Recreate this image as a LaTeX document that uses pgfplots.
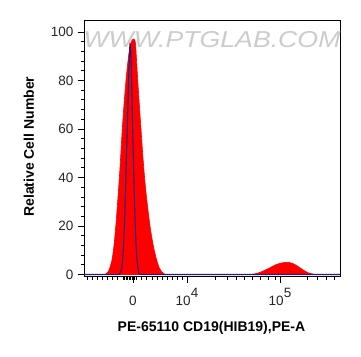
\documentclass[border=0pt]{standalone}
\usepackage{pgfplots}
\pgfplotsset{compat=1.18}
\usepackage{fontspec}
\setmainfont{Liberation Sans}
\definecolor{ctrl}{RGB}{45,25,120}
\newcommand{\tfont}{\fontsize{13.5}{15}\selectfont}
\newcommand{\lfont}{\fontsize{14}{16}\selectfont\bfseries}
\begin{document}
\begin{tikzpicture}[x=1pt,y=1pt]
\path[use as bounding box] (0,0) rectangle (361,356);
\begin{axis}[
  at={(84pt,80pt)}, anchor=south west,
  scale only axis, width=256pt, height=256pt,
  xmin=84, xmax=340, ymin=-0.6, ymax=104.9,
  axis line style={black, line width=0.8pt},
  tick align=outside,
  xtick pos=bottom, ytick pos=left,
  major tick length=6.5pt, minor tick length=3.5pt,
  every tick/.style={black, line width=0.7pt},
  xtick={133,187,280},
  xticklabels={{\tfont 0},{\tfont 10\raisebox{0.62em}{4}},{\tfont 10\raisebox{0.62em}{5}}},
  minor xtick={87,92,97,102,107,112,117,123,124.5,126,127.5,129,130.5,132,134.5,136,141,146.5,152,157,162,167,172,177,182,215,227,236,244,252,260,268,275,307,317,326,334},
  ytick={0,20,40,60,80,100},
  yticklabels={{\tfont 0},{\tfont 20},{\tfont 40},{\tfont 60},{\tfont 80},{\tfont 100}},
  minor y tick num=4,
  tick label style={text=black!85},
  xticklabel style={anchor=base, yshift=-23pt},
  yticklabel style={xshift=-0.5pt},
  xlabel={\lfont PE-65110 CD19(HIB19),PE-A},
  ylabel={\lfont Relative Cell Number},
  every axis x label/.style={at={(axis description cs:0.498,-0.203)}, anchor=center},
  every axis y label/.style={at={(axis description cs:-0.215,0.505)}, anchor=center, rotate=90},
  clip=true,
]
\addplot[fill=red, draw=red, line width=0.6pt, smooth, tension=0.5] coordinates {
(100,0) (105,0) (108,1) (110,3) (112,6) (114,12) (116,21) (118,32) (120,44) (122,58) (124,70) (126,80) (128,88) (130,94) (132,96.5) (134,97) (135.5,95) (137,85) (139,72) (141,60) (143,48) (145,38) (147,30) (150,20) (153,12.5) (156,7) (159,3) (162,1) (165,0) (170,0)
} \closedcycle;
\addplot[fill=red, draw=red, line width=0.6pt, smooth, tension=0.5] coordinates {
(245,0) (250,0) (255,0.3) (260,0.9) (265,1.8) (270,2.8) (275,3.9) (280,4.6) (285,5.0) (289,5.0) (293,4.5) (297,3.6) (301,2.5) (305,1.4) (309,0.6) (313,0.2) (316,0) (320,0)
} \closedcycle;
\addplot[ctrl, line width=1.1pt, smooth, tension=0.4] coordinates {
(84,0) (110,0) (119,0) (120,0.5) (121.5,2) (123,8) (124.5,21) (126,42) (127.5,64) (129,85) (130,95) (131,90) (132,73) (133,54) (134.3,33) (135.5,17) (137,6) (138.5,1.5) (140,0) (160,0) (340,0)
};
\node[text=black!20, font=\fontsize{23}{25}\selectfont\itshape, xscale=1.16, anchor=center] at (axis description cs:0.5,0.925) {WWW.PTGLAB.COM};
\end{axis}
\end{tikzpicture}
\end{document}
